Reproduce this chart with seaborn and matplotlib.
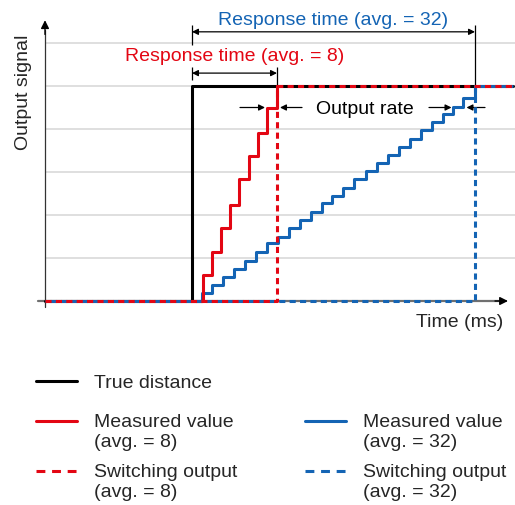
import matplotlib
matplotlib.use("Agg")
import matplotlib.pyplot as plt
import seaborn as sns

# step curves (time in arbitrary units, signal in grid units)
true_t = [0, 14.7, 46.8]
true_y = [0, 5, 5]

red_meas_t = [14.7, 15.8, 16.7, 17.6, 18.5, 19.4, 20.4, 21.3, 22.2, 23.2]
red_meas_y = [0, 0.60, 1.14, 1.70, 2.23, 2.84, 3.37, 3.91, 4.49, 5.0]

blue_meas_t = [14.7, 15.7, 16.7, 17.8, 18.9, 20.0, 21.1, 22.2, 23.3, 24.4, 25.5,
               26.6, 27.7, 28.7, 29.8, 30.9, 32.1, 33.2, 34.3, 35.4, 36.5,
               37.6, 38.7, 39.8, 40.8, 41.8, 43.0]
blue_meas_y = [0, 0.19, 0.37, 0.55, 0.75, 0.94, 1.15, 1.34, 1.50, 1.69, 1.88,
               2.08, 2.27, 2.44, 2.63, 2.84, 3.03, 3.22, 3.40, 3.59, 3.77,
               3.98, 4.17, 4.34, 4.52, 4.71, 5.0]

red_switch_t = [0, 23.2, 46.8]
red_switch_y = [0, 5, 5]
blue_switch_t = [0, 43.0, 46.8]
blue_switch_y = [0, 5, 5]

grid_levels = [1, 2, 3, 4, 5, 6]

RED = '#e30613'
BLUE = '#1464b4'

sns.set_style("white")
plt.rcParams['font.family'] = ['Liberation Sans', 'DejaVu Sans']
FS = 14

fig = plt.figure(figsize=(5.15, 5.05), dpi=100)
ax = fig.add_axes([0, 0, 1, 1])
ax.set_xlim(-4.5, 47.0)
ax.set_ylim(-4.744, 7.0)
ax.axis('off')

ax.hlines(grid_levels, 0, 47.0, color='#d9d9d9', lw=1.2, zorder=1)

# axes with arrows
ax.plot([-0.7, 45.8], [0, 0], color='#707070', lw=1.6, zorder=2)
ax.annotate('', xy=(46.3, 0), xytext=(45.0, 0),
            arrowprops=dict(arrowstyle='-|>', color='black', lw=1, mutation_scale=12,
                            shrinkA=0, shrinkB=0), zorder=3)
ax.plot([0, 0], [-0.14, 6.3], color='#333333', lw=0.9, zorder=2)
ax.annotate('', xy=(0, 6.53), xytext=(0, 6.2),
            arrowprops=dict(arrowstyle='-|>', color='black', lw=1, mutation_scale=12,
                            shrinkA=0, shrinkB=0), zorder=3)

lw = 2.2
sns.lineplot(x=true_t, y=true_y, drawstyle='steps-post', color='black', lw=lw,
             sort=False, estimator=None, ax=ax, zorder=4, label='True distance')
sns.lineplot(x=blue_meas_t, y=blue_meas_y, drawstyle='steps-post', color=BLUE, lw=lw,
             sort=False, estimator=None, ax=ax, zorder=5, label='Measured value\n(avg. = 32)')
sns.lineplot(x=red_meas_t, y=red_meas_y, drawstyle='steps-post', color=RED, lw=lw,
             sort=False, estimator=None, ax=ax, zorder=6, label='Measured value\n(avg. = 8)')
sns.lineplot(x=blue_switch_t, y=blue_switch_y, drawstyle='steps-post', color=BLUE, lw=lw,
             linestyle=(1.7, (2.0, 1.4)), sort=False, estimator=None, ax=ax, zorder=7,
             label='Switching output\n(avg. = 32)')
sns.lineplot(x=red_switch_t, y=red_switch_y, drawstyle='steps-post', color=RED, lw=lw,
             linestyle=(0, (2.0, 1.4)), sort=False, estimator=None, ax=ax, zorder=8,
             label='Switching output\n(avg. = 8)')
ax.get_legend().remove()

# response time dimension lines
arrow_kw = dict(arrowstyle='<|-|>', color='black', lw=0.9, mutation_scale=9,
                shrinkA=0, shrinkB=0)
ax.annotate('', xy=(blue_switch_t[1], 6.26), xytext=(true_t[1], 6.26), arrowprops=arrow_kw)
ax.vlines(true_t[1], 5.95, 6.42, color='black', lw=0.9)
ax.vlines(blue_switch_t[1], 5.0, 6.42, color='black', lw=0.9)
ax.text(28.85, 6.42, 'Response time (avg. = 32)', color=BLUE, fontsize=FS,
        ha='center', va='baseline')

ax.annotate('', xy=(red_switch_t[1], 5.30), xytext=(true_t[1], 5.30), arrowprops=arrow_kw)
ax.vlines(true_t[1], 5.14, 5.44, color='black', lw=0.9)
ax.vlines(red_switch_t[1], 5.0, 5.44, color='black', lw=0.9)
ax.text(18.97, 5.58, 'Response time (avg. = 8)', color=RED, fontsize=FS,
        ha='center', va='baseline')

# output rate
one_kw = dict(arrowstyle='-|>', color='black', lw=0.9, mutation_scale=9,
              shrinkA=0, shrinkB=0)
ya = 4.50
ax.annotate('', xy=(red_meas_t[-2] - 0.2, ya), xytext=(19.5, ya), arrowprops=one_kw)
ax.annotate('', xy=(red_meas_t[-1] + 0.3, ya), xytext=(25.7, ya), arrowprops=one_kw)
ax.annotate('', xy=(blue_meas_t[-3] - 0.15, ya), xytext=(38.4, ya), arrowprops=one_kw)
ax.annotate('', xy=(blue_meas_t[-2] + 0.35, ya), xytext=(44.0, ya), arrowprops=one_kw)
ax.text(32.0, 4.35, 'Output rate', color='black', fontsize=FS, ha='center', va='baseline')

ax.text(45.8, -0.49, 'Time (ms)', fontsize=FS, ha='right', va='center')
ax.text(-2.1, 4.86, 'Output signal', fontsize=FS, ha='center', va='center', rotation=90)

# legends
handles, labels = ax.get_legend_handles_labels()
hmap = dict(zip(labels, handles))
leg_kw = dict(frameon=False, fontsize=FS, handlelength=2.1, handletextpad=0.9,
              borderpad=0, borderaxespad=0, loc='upper left')
fig.legend([hmap['True distance']], ['True distance'],
           bbox_to_anchor=(36 / 515, 1 - 374 / 505), **leg_kw)
order = ['Measured value\n(avg. = 8)', 'Switching output\n(avg. = 8)',
         'Measured value\n(avg. = 32)', 'Switching output\n(avg. = 32)']
leg2 = fig.legend([hmap[k] for k in order], order, ncol=2, columnspacing=3.45,
                  labelspacing=0.7, bbox_to_anchor=(36 / 515, 1 - 414 / 505), **leg_kw)
for t in leg2.texts:
    t.set_linespacing(1.2)
for ln in leg2.get_lines():
    ln.set_ydata([v + 7.8 for v in ln.get_ydata()])
    if ln.get_linestyle() != '-':
        ln.set_linestyle((0, (2.9, 2.2)))

fig.savefig('out.png', dpi=100)
